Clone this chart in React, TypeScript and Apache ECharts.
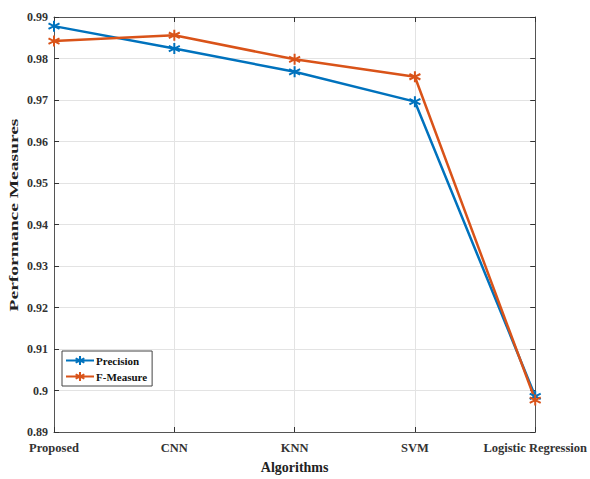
import React, { useEffect, useRef } from "react";
import * as echarts from "echarts";

const categories = ["Proposed", "CNN", "KNN", "SVM", "Logistic Regression"];
const precision = [0.9878, 0.9824, 0.9768, 0.9696, 0.8986];
const fMeasure = [0.9842, 0.9856, 0.9798, 0.9756, 0.8977];
const yTicks = { min: 0.89, max: 0.99, interval: 0.01 };

const BLUE = "#0072BD";
const ORANGE = "#D95319";
const FONT = "'Liberation Serif', 'Times New Roman', serif";
const STAR = "path://M0,-5L0,5M-4.33,-2.5L4.33,2.5M-4.33,2.5L4.33,-2.5";

export default function App() {
  const ref = useRef<HTMLDivElement>(null);
  useEffect(() => {
    if (!ref.current) return;
    const chart = echarts.init(ref.current, undefined, { renderer: "svg" });
    const axisLine = { show: true, lineStyle: { color: "#555", width: 1 } };
    const labelStyle = { fontFamily: FONT, fontWeight: "bold" as const, fontSize: 12, color: "#333" };
    const mkSeries = (name: string, data: number[], color: string) => ({
      name,
      type: "line",
      data,
      symbol: STAR,
      symbolSize: 11,
      showSymbol: true,
      lineStyle: { color, width: 2.5 },
      itemStyle: { color, borderColor: color, borderWidth: 2 },
      emphasis: { disabled: true },
    });
    chart.setOption({
      animation: false,
      backgroundColor: "#fff",
      grid: { left: 54, right: 53, top: 17, bottom: 46 },
      legend: {
        left: 62,
        top: 351,
        orient: "vertical",
        backgroundColor: "#fff",
        borderColor: "#444",
        borderWidth: 1,
        borderRadius: 0,
        padding: [4, 5, 4, 3],
        itemGap: 5,
        itemWidth: 28,
        itemHeight: 11,
        textStyle: { fontFamily: FONT, fontWeight: "bold", fontSize: 11, color: "#111", padding: [0, 0, 0, -3] },
        data: ["Precision", "F-Measure"],
      },
      xAxis: [
        {
          type: "category",
          data: categories,
          boundaryGap: false,
          name: "Algorithms",
          nameLocation: "middle",
          nameGap: 28,
          nameTextStyle: { fontFamily: FONT, fontWeight: "bold", fontSize: 14, color: "#222" },
          axisLine,
          axisTick: { show: true, inside: true, length: 5, interval: 0, lineStyle: { color: "#333" } },
          axisLabel: { ...labelStyle, fontSize: 12.5, margin: 9, interval: 0, hideOverlap: false },
          splitLine: { show: true, interval: 0, lineStyle: { color: "#e3e3e3", width: 1 } },
        },
        {
          type: "category",
          data: categories,
          boundaryGap: false,
          position: "top",
          axisLine,
          axisTick: { show: true, inside: true, length: 5, interval: 0, lineStyle: { color: "#333" } },
          axisLabel: { show: false },
          splitLine: { show: false },
        },
      ],
      yAxis: [
        {
          type: "value",
          min: yTicks.min,
          max: yTicks.max,
          interval: yTicks.interval,
          axisLine,
          axisTick: { show: true, inside: true, length: 5, lineStyle: { color: "#333" } },
          axisLabel: {
            ...labelStyle,
            margin: 6,
            formatter: (v: number) => String(parseFloat(v.toFixed(2))),
          },
          splitLine: { show: true, lineStyle: { color: "#e3e3e3", width: 1 } },
        },
        {
          type: "value",
          min: yTicks.min,
          max: yTicks.max,
          interval: yTicks.interval,
          position: "right",
          axisLine,
          axisTick: { show: true, inside: true, length: 5, lineStyle: { color: "#333" } },
          axisLabel: { show: false },
          splitLine: { show: false },
        },
      ],
      graphic: [
        {
          type: "text",
          x: 14,
          y: 215,
          rotation: Math.PI / 2,
          scaleX: 1.5,
          style: {
            text: "Performance Measures",
            fontFamily: FONT,
            fontWeight: "bold",
            fontSize: 13,
            fill: "#222",
            align: "center",
            verticalAlign: "middle",
          },
        },
      ],
      series: [mkSeries("Precision", precision, BLUE), mkSeries("F-Measure", fMeasure, ORANGE)],
    });
    return () => chart.dispose();
  }, []);
  return <div ref={ref} style={{ position: "fixed", left: 0, top: 0, width: 590, height: 479 }} />;
}
